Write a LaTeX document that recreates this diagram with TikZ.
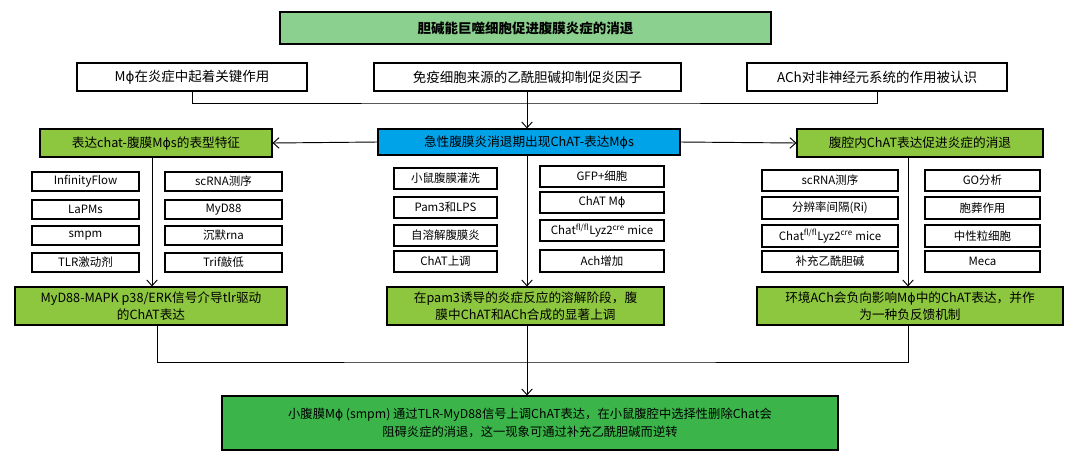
\documentclass[tikz,border=0pt]{standalone}
\usepackage{fontspec}
\setmainfont{Noto Sans CJK SC}
\newfontfamily\dv{DejaVu Sans}
\newcommand{\ph}{{\dv ϕ}}
\usetikzlibrary{arrows.meta}
\definecolor{lg}{HTML}{8BD08F}
\definecolor{gr}{HTML}{8DC63F}
\definecolor{dg}{HTML}{3BB54A}
\definecolor{bl}{HTML}{00A2E8}
\tikzset{x=0.03cm,y=-0.03cm,
 bx/.style={draw,line width=0.9pt,inner sep=0pt,font=\fontsize{9.8}{11}\selectfont},
 big/.style={font=\fontsize{11.5}{13}\selectfont},
 mid/.style={font=\fontsize{10.8}{15}\selectfont},
 fin/.style={font=\fontsize{10.5}{16}\selectfont},
 ln/.style={line width=0.8pt},
 ar/.style={ln,-{Straight Barb[length=5pt,width=9pt]}}}
\begin{document}
\begin{tikzpicture}
\useasboundingbox (0,0) rectangle (1080,463);
\def\B#1#2#3#4#5#6#7{\node[bx,fill=#6,minimum width=(#3-#1)*0.03cm,minimum height=(#4-#2)*0.03cm,align=center] (#5) at ({(#1+#3)/2},{(#2+#4)/2}) {#7};}
\begin{scope}[bx/.append style={big}]
\B{280}{12}{771}{44}{t}{lg}{\bfseries 胆碱能巨噬细胞促进腹膜炎症的消退}
\B{77}{63}{307}{91}{a1}{white}{M\ph 在炎症中起着关键作用}
\B{374}{63}{681}{91}{a2}{white}{免疫细胞来源的乙酰胆碱抑制促炎因子}
\B{747}{63}{1007}{91}{a3}{white}{ACh对非神经元系统的作用被认识}
\end{scope}
\begin{scope}[bx/.append style={mid}]
\B{378}{129}{680}{155}{c}{bl}{急性腹膜炎消退期出现ChAT-表达M\ph s}
\B{40}{129}{272}{157}{l}{gr}{表达chat-腹膜M\ph s的表型特征}
\B{797}{129}{1043}{157}{r}{gr}{腹腔内ChAT表达促进炎症的消退}
\B{15}{287}{287}{325}{lb}{gr}{MyD88-MAPK p38/ERK信号介导tlr驱动\\的ChAT表达}
\B{387}{287}{664}{325}{mb}{gr}{在pam3诱导的炎症反应的溶解阶段，腹\\膜中ChAT和ACh合成的显著上调}
\B{757}{287}{1063}{325}{rb}{gr}{环境ACh会负向影响M\ph 中的ChAT表达，并作\\为一种负反馈机制}
\end{scope}
\begin{scope}[bx/.append style={fin}]
\B{222}{396}{838}{450}{f}{dg}{小腹膜M\ph{} (smpm) 通过TLR-MyD88信号上调ChAT表达，在小鼠腹腔中选择性删除Chat会\\阻碍炎症的消退，这一现象可通过补充乙酰胆碱而逆转}
\end{scope}
% left small
\B{32}{172}{139}{191}{l1}{white}{InfinityFlow}
\B{32}{200}{139}{219}{l2}{white}{LaPMs}
\B{32}{226}{139}{245}{l3}{white}{smpm}
\B{32}{253}{139}{272}{l4}{white}{TLR激动剂}
\B{165}{172}{282}{191}{l5}{white}{scRNA测序}
\B{165}{200}{282}{219}{l6}{white}{MyD88}
\B{165}{226}{282}{245}{l7}{white}{沉默rna}
\B{165}{253}{282}{272}{l8}{white}{Trif敲低}
% middle small
\B{394}{168}{497}{189}{m1}{white}{小鼠腹膜灌洗}
\B{394}{197}{497}{218}{m2}{white}{Pam3和LPS}
\B{394}{225}{497}{246}{m3}{white}{自溶解腹膜炎}
\B{394}{251}{497}{272}{m4}{white}{ChAT上调}
\B{540}{166}{664}{187}{m5}{white}{GFP+细胞}
\B{540}{192}{664}{213}{m6}{white}{ChAT M\ph}
\B{540}{220}{664}{241}{m7}{white}{Chat\textsuperscript{fl/fl}Lyz2\textsuperscript{cre} mice}
\B{540}{250}{664}{272}{m8}{white}{Ach增加}
% right small
\B{762}{170}{898}{191}{r1}{white}{scRNA测序}
\B{762}{197}{898}{219}{r2}{white}{分辨率间隔(Ri)}
\B{762}{225}{898}{247}{r3}{white}{Chat\textsuperscript{fl/fl}Lyz2\textsuperscript{cre} mice}
\B{762}{251}{898}{272}{r4}{white}{补充乙酰胆碱}
\B{925}{170}{1040}{191}{r5}{white}{GO分析}
\B{925}{197}{1040}{219}{r6}{white}{胞葬作用}
\B{925}{225}{1040}{247}{r7}{white}{中性粒细胞}
\B{925}{251}{1040}{272}{r8}{white}{Meca}
% connectors
\coordinate (jc) at (527,103);
\draw[ln] (a1.south) |- (jc) -| (a3.south);
\draw[ln] (a2.south) -- (a2.south|-jc);
\draw[ar] (jc) -- (c.north-|jc);
\draw[ar] (c.west) -- (l.east);
\draw[ar] (c.east) -- (r.west);
\draw[ar] (l.south-|152,0) -- (lb.north-|152,0);
\draw[ar] (c.south-|527,0) -- (mb.north-|527,0);
\draw[ar] (r.south-|908,0) -- (rb.north-|908,0);
\coordinate (k) at (527,362);
\draw[ln] (lb.south-|157,0) |- (k) -| (rb.south-|908,0);
\draw[ln] (mb.south-|527,0) -- (k);
\draw[ar] (k) -- (f.north-|k);
\end{tikzpicture}
\end{document}
